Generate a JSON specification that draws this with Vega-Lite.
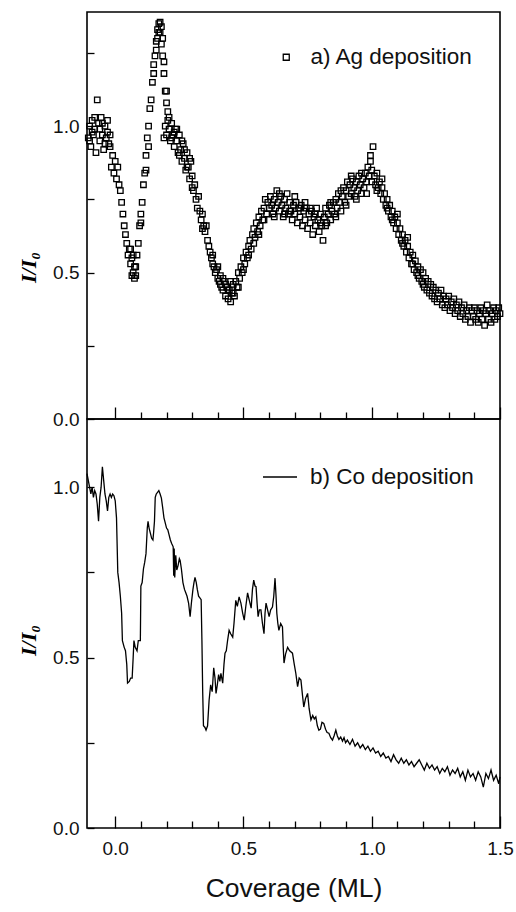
{
  "$schema": "https://vega.github.io/schema/vega-lite/v6.json",
  "background": "white",
  "padding": {"left": 16, "top": 11, "right": 4, "bottom": 4},
  "spacing": 0,
  "bounds": "flush",
  "config": {
    "view": {"stroke": "black", "strokeWidth": 1.6},
    "axis": {"labelFont": "Liberation Sans", "labelColor": "#111", "tickColor": "black", "tickWidth": 1.3, "grid": false, "domain": false, "labelOverlap": false, "labelFlush": false},
    "legend": {"labelFont": "Liberation Sans", "labelColor": "#111", "padding": 0, "labelLimit": 400}
  },
  "resolve": {"scale": {"x": "independent", "y": "independent", "stroke": "independent"}, "legend": {"stroke": "independent"}},
  "datasets": {
    "ag": [
      {"cov": -0.105, "ii": 0.96}, {"cov": -0.1, "ii": 1.0}, {"cov": -0.095, "ii": 0.93}, {"cov": -0.09, "ii": 1.02}, {"cov": -0.085, "ii": 0.97}, {"cov": -0.08, "ii": 0.99}, {"cov": -0.075, "ii": 0.91}, {"cov": -0.07, "ii": 1.09}, {"cov": -0.065, "ii": 1.01}, {"cov": -0.06, "ii": 0.95}, {"cov": -0.055, "ii": 1.03}, {"cov": -0.05, "ii": 0.97}, {"cov": -0.045, "ii": 0.92}, {"cov": -0.04, "ii": 1.0}, {"cov": -0.035, "ii": 0.96}, {"cov": -0.03, "ii": 1.02}, {"cov": -0.025, "ii": 0.94},
      {"cov": -0.1, "ii": 0.95}, {"cov": -0.09, "ii": 0.98}, {"cov": -0.08, "ii": 1.03}, {"cov": -0.06, "ii": 0.99}, {"cov": -0.05, "ii": 1.01}, {"cov": -0.04, "ii": 0.94}, {"cov": -0.03, "ii": 0.98},
      {"cov": -0.02, "ii": 0.93}, {"cov": -0.02, "ii": 0.97}, {"cov": -0.015, "ii": 0.86}, {"cov": -0.01, "ii": 0.9}, {"cov": -0.005, "ii": 0.84}, {"cov": 0.0, "ii": 0.88}, {"cov": 0.005, "ii": 0.82}, {"cov": 0.01, "ii": 0.86}, {"cov": 0.015, "ii": 0.8}, {"cov": 0.02, "ii": 0.78}, {"cov": 0.025, "ii": 0.74}, {"cov": 0.03, "ii": 0.7}, {"cov": 0.035, "ii": 0.66}, {"cov": 0.04, "ii": 0.63}, {"cov": 0.045, "ii": 0.6}, {"cov": 0.05, "ii": 0.56}, {"cov": 0.055, "ii": 0.58}, {"cov": 0.06, "ii": 0.53}, {"cov": 0.065, "ii": 0.55}, {"cov": 0.07, "ii": 0.5}, {"cov": 0.075, "ii": 0.48}, {"cov": 0.08, "ii": 0.52}, {"cov": 0.085, "ii": 0.56}, {"cov": 0.09, "ii": 0.6}, {"cov": 0.095, "ii": 0.66}, {"cov": 0.1, "ii": 0.7}, {"cov": 0.105, "ii": 0.74}, {"cov": 0.11, "ii": 0.8}, {"cov": 0.115, "ii": 0.84}, {"cov": 0.12, "ii": 0.9}, {"cov": 0.125, "ii": 0.96}, {"cov": 0.13, "ii": 1.0}, {"cov": 0.135, "ii": 1.06}, {"cov": 0.14, "ii": 1.09}, {"cov": 0.145, "ii": 1.15}, {"cov": 0.15, "ii": 1.18}, {"cov": 0.155, "ii": 1.24}, {"cov": 0.16, "ii": 1.29}, {"cov": 0.165, "ii": 1.33}, {"cov": 0.17, "ii": 1.35}, {"cov": 0.175, "ii": 1.32}, {"cov": 0.18, "ii": 1.28}, {"cov": 0.185, "ii": 1.24}, {"cov": 0.19, "ii": 1.18}, {"cov": 0.195, "ii": 1.12}, {"cov": 0.2, "ii": 1.08}, {"cov": 0.205, "ii": 1.05},
      {"cov": 0.06, "ii": 0.58}, {"cov": 0.065, "ii": 0.49}, {"cov": 0.07, "ii": 0.56}, {"cov": 0.075, "ii": 0.52}, {"cov": 0.08, "ii": 0.49}, {"cov": 0.1, "ii": 0.67}, {"cov": 0.12, "ii": 0.85}, {"cov": 0.13, "ii": 0.93}, {"cov": 0.15, "ii": 1.21}, {"cov": 0.16, "ii": 1.26}, {"cov": 0.165, "ii": 1.3}, {"cov": 0.17, "ii": 1.32}, {"cov": 0.175, "ii": 1.355}, {"cov": 0.18, "ii": 1.34}, {"cov": 0.185, "ii": 1.3}, {"cov": 0.19, "ii": 1.22}, {"cov": 0.2, "ii": 1.12},
      {"cov": 0.19, "ii": 0.96}, {"cov": 0.195, "ii": 1.0}, {"cov": 0.2, "ii": 0.97}, {"cov": 0.205, "ii": 1.02}, {"cov": 0.21, "ii": 0.99}, {"cov": 0.215, "ii": 0.95}, {"cov": 0.22, "ii": 1.01}, {"cov": 0.225, "ii": 0.97}, {"cov": 0.23, "ii": 0.93}, {"cov": 0.235, "ii": 0.99}, {"cov": 0.24, "ii": 0.95}, {"cov": 0.245, "ii": 0.91}, {"cov": 0.25, "ii": 0.97}, {"cov": 0.255, "ii": 0.92}, {"cov": 0.26, "ii": 0.88}, {"cov": 0.265, "ii": 0.94}, {"cov": 0.27, "ii": 0.89}, {"cov": 0.275, "ii": 0.85}, {"cov": 0.28, "ii": 0.91}, {"cov": 0.285, "ii": 0.86}, {"cov": 0.29, "ii": 0.82}, {"cov": 0.295, "ii": 0.88}, {"cov": 0.3, "ii": 0.83},
      {"cov": 0.21, "ii": 1.03}, {"cov": 0.22, "ii": 0.96}, {"cov": 0.23, "ii": 0.98}, {"cov": 0.24, "ii": 0.99}, {"cov": 0.25, "ii": 0.9}, {"cov": 0.26, "ii": 0.95}, {"cov": 0.27, "ii": 0.92}, {"cov": 0.28, "ii": 0.86}, {"cov": 0.29, "ii": 0.89}, {"cov": 0.3, "ii": 0.79},
      {"cov": 0.305, "ii": 0.78}, {"cov": 0.31, "ii": 0.8}, {"cov": 0.315, "ii": 0.75}, {"cov": 0.32, "ii": 0.72}, {"cov": 0.325, "ii": 0.76}, {"cov": 0.33, "ii": 0.71}, {"cov": 0.335, "ii": 0.68}, {"cov": 0.34, "ii": 0.7}, {"cov": 0.345, "ii": 0.66}, {"cov": 0.35, "ii": 0.64}, {"cov": 0.355, "ii": 0.66}, {"cov": 0.36, "ii": 0.61}, {"cov": 0.365, "ii": 0.59}, {"cov": 0.37, "ii": 0.57}, {"cov": 0.375, "ii": 0.55}, {"cov": 0.38, "ii": 0.56}, {"cov": 0.385, "ii": 0.52}, {"cov": 0.39, "ii": 0.5}, {"cov": 0.395, "ii": 0.51}, {"cov": 0.4, "ii": 0.48}, {"cov": 0.405, "ii": 0.47}, {"cov": 0.41, "ii": 0.49}, {"cov": 0.415, "ii": 0.45}, {"cov": 0.42, "ii": 0.44}, {"cov": 0.425, "ii": 0.47}, {"cov": 0.43, "ii": 0.42}, {"cov": 0.435, "ii": 0.45}, {"cov": 0.44, "ii": 0.41}, {"cov": 0.445, "ii": 0.44}, {"cov": 0.45, "ii": 0.4}, {"cov": 0.455, "ii": 0.43}, {"cov": 0.46, "ii": 0.46}, {"cov": 0.465, "ii": 0.42},
      {"cov": 0.34, "ii": 0.65}, {"cov": 0.38, "ii": 0.53}, {"cov": 0.4, "ii": 0.52}, {"cov": 0.41, "ii": 0.46}, {"cov": 0.42, "ii": 0.48}, {"cov": 0.43, "ii": 0.46}, {"cov": 0.44, "ii": 0.44}, {"cov": 0.45, "ii": 0.47}, {"cov": 0.46, "ii": 0.43},
      {"cov": 0.47, "ii": 0.47}, {"cov": 0.475, "ii": 0.45}, {"cov": 0.48, "ii": 0.5}, {"cov": 0.485, "ii": 0.48}, {"cov": 0.49, "ii": 0.52}, {"cov": 0.495, "ii": 0.5}, {"cov": 0.5, "ii": 0.55}, {"cov": 0.505, "ii": 0.53}, {"cov": 0.51, "ii": 0.57}, {"cov": 0.515, "ii": 0.55}, {"cov": 0.52, "ii": 0.59}, {"cov": 0.525, "ii": 0.61}, {"cov": 0.53, "ii": 0.58}, {"cov": 0.535, "ii": 0.63}, {"cov": 0.54, "ii": 0.65}, {"cov": 0.545, "ii": 0.62}, {"cov": 0.55, "ii": 0.67}, {"cov": 0.555, "ii": 0.64}, {"cov": 0.56, "ii": 0.69}, {"cov": 0.565, "ii": 0.66}, {"cov": 0.57, "ii": 0.71}, {"cov": 0.575, "ii": 0.68}, {"cov": 0.58, "ii": 0.72}, {"cov": 0.585, "ii": 0.75}, {"cov": 0.59, "ii": 0.7}, {"cov": 0.595, "ii": 0.74}, {"cov": 0.6, "ii": 0.72},
      {"cov": 0.48, "ii": 0.45}, {"cov": 0.5, "ii": 0.51}, {"cov": 0.52, "ii": 0.56}, {"cov": 0.54, "ii": 0.6}, {"cov": 0.56, "ii": 0.63}, {"cov": 0.58, "ii": 0.68},
      {"cov": 0.605, "ii": 0.76}, {"cov": 0.61, "ii": 0.73}, {"cov": 0.615, "ii": 0.7}, {"cov": 0.62, "ii": 0.75}, {"cov": 0.625, "ii": 0.72}, {"cov": 0.63, "ii": 0.78}, {"cov": 0.635, "ii": 0.74}, {"cov": 0.64, "ii": 0.71}, {"cov": 0.645, "ii": 0.76}, {"cov": 0.65, "ii": 0.73}, {"cov": 0.655, "ii": 0.69}, {"cov": 0.66, "ii": 0.75}, {"cov": 0.665, "ii": 0.72}, {"cov": 0.67, "ii": 0.77}, {"cov": 0.675, "ii": 0.7}, {"cov": 0.68, "ii": 0.74}, {"cov": 0.685, "ii": 0.71}, {"cov": 0.69, "ii": 0.68}, {"cov": 0.695, "ii": 0.73}, {"cov": 0.7, "ii": 0.7}, {"cov": 0.705, "ii": 0.74}, {"cov": 0.71, "ii": 0.67}, {"cov": 0.715, "ii": 0.72}, {"cov": 0.72, "ii": 0.69}, {"cov": 0.725, "ii": 0.73}, {"cov": 0.73, "ii": 0.66}, {"cov": 0.735, "ii": 0.71}, {"cov": 0.74, "ii": 0.68}, {"cov": 0.745, "ii": 0.72}, {"cov": 0.75, "ii": 0.65}, {"cov": 0.755, "ii": 0.7}, {"cov": 0.76, "ii": 0.67}, {"cov": 0.765, "ii": 0.71}, {"cov": 0.77, "ii": 0.63}, {"cov": 0.775, "ii": 0.69}, {"cov": 0.78, "ii": 0.66}, {"cov": 0.785, "ii": 0.72}, {"cov": 0.79, "ii": 0.68}, {"cov": 0.795, "ii": 0.64}, {"cov": 0.8, "ii": 0.7}, {"cov": 0.805, "ii": 0.66}, {"cov": 0.81, "ii": 0.61}, {"cov": 0.815, "ii": 0.69}, {"cov": 0.82, "ii": 0.72}, {"cov": 0.825, "ii": 0.67}, {"cov": 0.83, "ii": 0.7}, {"cov": 0.835, "ii": 0.73}, {"cov": 0.84, "ii": 0.68}, {"cov": 0.845, "ii": 0.71}, {"cov": 0.85, "ii": 0.74},
      {"cov": 0.62, "ii": 0.69}, {"cov": 0.64, "ii": 0.77}, {"cov": 0.66, "ii": 0.7}, {"cov": 0.68, "ii": 0.71}, {"cov": 0.7, "ii": 0.76}, {"cov": 0.72, "ii": 0.72}, {"cov": 0.74, "ii": 0.74}, {"cov": 0.76, "ii": 0.72}, {"cov": 0.78, "ii": 0.7}, {"cov": 0.8, "ii": 0.67}, {"cov": 0.82, "ii": 0.66}, {"cov": 0.84, "ii": 0.74},
      {"cov": 0.855, "ii": 0.7}, {"cov": 0.86, "ii": 0.75}, {"cov": 0.865, "ii": 0.72}, {"cov": 0.87, "ii": 0.77}, {"cov": 0.875, "ii": 0.74}, {"cov": 0.88, "ii": 0.71}, {"cov": 0.885, "ii": 0.76}, {"cov": 0.89, "ii": 0.79}, {"cov": 0.895, "ii": 0.74}, {"cov": 0.9, "ii": 0.78}, {"cov": 0.905, "ii": 0.81}, {"cov": 0.91, "ii": 0.76}, {"cov": 0.915, "ii": 0.8}, {"cov": 0.92, "ii": 0.77}, {"cov": 0.925, "ii": 0.82}, {"cov": 0.93, "ii": 0.79}, {"cov": 0.935, "ii": 0.76}, {"cov": 0.94, "ii": 0.81}, {"cov": 0.945, "ii": 0.78}, {"cov": 0.95, "ii": 0.83}, {"cov": 0.955, "ii": 0.8}, {"cov": 0.96, "ii": 0.77}, {"cov": 0.965, "ii": 0.82}, {"cov": 0.97, "ii": 0.79}, {"cov": 0.975, "ii": 0.84}, {"cov": 0.98, "ii": 0.81}, {"cov": 0.985, "ii": 0.86}, {"cov": 0.99, "ii": 0.83}, {"cov": 0.995, "ii": 0.88}, {"cov": 1.0, "ii": 0.85}, {"cov": 1.005, "ii": 0.93},
      {"cov": 0.86, "ii": 0.69}, {"cov": 0.88, "ii": 0.78}, {"cov": 0.9, "ii": 0.73}, {"cov": 0.92, "ii": 0.83}, {"cov": 0.94, "ii": 0.75}, {"cov": 0.96, "ii": 0.84}, {"cov": 0.98, "ii": 0.77}, {"cov": 1.0, "ii": 0.81}, {"cov": 0.995, "ii": 0.9},
      {"cov": 1.01, "ii": 0.83}, {"cov": 1.015, "ii": 0.8}, {"cov": 1.02, "ii": 0.84}, {"cov": 1.025, "ii": 0.79}, {"cov": 1.03, "ii": 0.81}, {"cov": 1.035, "ii": 0.77}, {"cov": 1.04, "ii": 0.79}, {"cov": 1.045, "ii": 0.75}, {"cov": 1.05, "ii": 0.77}, {"cov": 1.055, "ii": 0.73}, {"cov": 1.06, "ii": 0.75}, {"cov": 1.065, "ii": 0.71}, {"cov": 1.07, "ii": 0.73}, {"cov": 1.075, "ii": 0.69}, {"cov": 1.08, "ii": 0.71}, {"cov": 1.085, "ii": 0.67}, {"cov": 1.09, "ii": 0.69}, {"cov": 1.095, "ii": 0.65}, {"cov": 1.1, "ii": 0.67}, {"cov": 1.105, "ii": 0.63}, {"cov": 1.11, "ii": 0.65}, {"cov": 1.115, "ii": 0.61}, {"cov": 1.12, "ii": 0.63}, {"cov": 1.125, "ii": 0.59}, {"cov": 1.13, "ii": 0.61}, {"cov": 1.135, "ii": 0.57}, {"cov": 1.14, "ii": 0.59}, {"cov": 1.145, "ii": 0.55}, {"cov": 1.15, "ii": 0.57}, {"cov": 1.155, "ii": 0.53}, {"cov": 1.16, "ii": 0.56}, {"cov": 1.165, "ii": 0.51}, {"cov": 1.17, "ii": 0.54}, {"cov": 1.175, "ii": 0.5}, {"cov": 1.18, "ii": 0.52}, {"cov": 1.185, "ii": 0.48}, {"cov": 1.19, "ii": 0.51}, {"cov": 1.195, "ii": 0.47}, {"cov": 1.2, "ii": 0.5},
      {"cov": 1.02, "ii": 0.78}, {"cov": 1.04, "ii": 0.82}, {"cov": 1.06, "ii": 0.72}, {"cov": 1.08, "ii": 0.68}, {"cov": 1.1, "ii": 0.7}, {"cov": 1.12, "ii": 0.6}, {"cov": 1.14, "ii": 0.62}, {"cov": 1.16, "ii": 0.53}, {"cov": 1.18, "ii": 0.49}, {"cov": 1.2, "ii": 0.46},
      {"cov": 1.205, "ii": 0.45}, {"cov": 1.21, "ii": 0.48}, {"cov": 1.215, "ii": 0.44}, {"cov": 1.22, "ii": 0.47}, {"cov": 1.225, "ii": 0.43}, {"cov": 1.23, "ii": 0.46}, {"cov": 1.235, "ii": 0.42}, {"cov": 1.24, "ii": 0.45}, {"cov": 1.245, "ii": 0.41}, {"cov": 1.25, "ii": 0.44}, {"cov": 1.255, "ii": 0.4}, {"cov": 1.26, "ii": 0.43}, {"cov": 1.265, "ii": 0.41}, {"cov": 1.27, "ii": 0.44}, {"cov": 1.275, "ii": 0.39}, {"cov": 1.28, "ii": 0.42}, {"cov": 1.285, "ii": 0.38}, {"cov": 1.29, "ii": 0.41}, {"cov": 1.295, "ii": 0.39}, {"cov": 1.3, "ii": 0.42}, {"cov": 1.305, "ii": 0.37}, {"cov": 1.31, "ii": 0.4}, {"cov": 1.315, "ii": 0.38}, {"cov": 1.32, "ii": 0.41}, {"cov": 1.325, "ii": 0.36}, {"cov": 1.33, "ii": 0.39}, {"cov": 1.335, "ii": 0.37}, {"cov": 1.34, "ii": 0.4}, {"cov": 1.345, "ii": 0.35}, {"cov": 1.35, "ii": 0.38}, {"cov": 1.355, "ii": 0.36}, {"cov": 1.36, "ii": 0.39}, {"cov": 1.365, "ii": 0.34}, {"cov": 1.37, "ii": 0.37}, {"cov": 1.375, "ii": 0.35}, {"cov": 1.38, "ii": 0.38}, {"cov": 1.385, "ii": 0.33}, {"cov": 1.39, "ii": 0.37}, {"cov": 1.395, "ii": 0.35}, {"cov": 1.4, "ii": 0.38}, {"cov": 1.405, "ii": 0.34}, {"cov": 1.41, "ii": 0.37}, {"cov": 1.415, "ii": 0.33}, {"cov": 1.42, "ii": 0.36}, {"cov": 1.425, "ii": 0.38}, {"cov": 1.43, "ii": 0.34}, {"cov": 1.435, "ii": 0.37}, {"cov": 1.44, "ii": 0.32}, {"cov": 1.445, "ii": 0.36}, {"cov": 1.45, "ii": 0.39}, {"cov": 1.455, "ii": 0.34}, {"cov": 1.46, "ii": 0.37}, {"cov": 1.465, "ii": 0.33}, {"cov": 1.47, "ii": 0.36}, {"cov": 1.475, "ii": 0.38}, {"cov": 1.48, "ii": 0.34}, {"cov": 1.485, "ii": 0.37}, {"cov": 1.49, "ii": 0.35}, {"cov": 1.495, "ii": 0.38}, {"cov": 1.5, "ii": 0.36}
    ],
    "co": [
      {"cov": -0.11, "ii": 1.04}, {"cov": -0.105, "ii": 1.02}, {"cov": -0.1, "ii": 1.0}, {"cov": -0.095, "ii": 0.98}, {"cov": -0.09, "ii": 1.0}, {"cov": -0.085, "ii": 0.97}, {"cov": -0.08, "ii": 0.99}, {"cov": -0.075, "ii": 0.98}, {"cov": -0.07, "ii": 0.95}, {"cov": -0.065, "ii": 0.9}, {"cov": -0.06, "ii": 0.97}, {"cov": -0.055, "ii": 1.0}, {"cov": -0.05, "ii": 1.06}, {"cov": -0.045, "ii": 1.02}, {"cov": -0.04, "ii": 0.98}, {"cov": -0.035, "ii": 0.96}, {"cov": -0.03, "ii": 0.93}, {"cov": -0.025, "ii": 0.97}, {"cov": -0.02, "ii": 0.98}, {"cov": -0.015, "ii": 0.97}, {"cov": -0.01, "ii": 0.98}, {"cov": -0.005, "ii": 0.975}, {"cov": 0.0, "ii": 0.96}, {"cov": 0.005, "ii": 0.91}, {"cov": 0.01, "ii": 0.75}, {"cov": 0.015, "ii": 0.72}, {"cov": 0.02, "ii": 0.68}, {"cov": 0.025, "ii": 0.63}, {"cov": 0.028, "ii": 0.55}, {"cov": 0.035, "ii": 0.53}, {"cov": 0.04, "ii": 0.52}, {"cov": 0.045, "ii": 0.48}, {"cov": 0.048, "ii": 0.425}, {"cov": 0.055, "ii": 0.43}, {"cov": 0.06, "ii": 0.44}, {"cov": 0.066, "ii": 0.44}, {"cov": 0.07, "ii": 0.5}, {"cov": 0.073, "ii": 0.55}, {"cov": 0.078, "ii": 0.53}, {"cov": 0.085, "ii": 0.52}, {"cov": 0.09, "ii": 0.55}, {"cov": 0.098, "ii": 0.55}, {"cov": 0.1, "ii": 0.71}, {"cov": 0.105, "ii": 0.72}, {"cov": 0.11, "ii": 0.76}, {"cov": 0.115, "ii": 0.78}, {"cov": 0.12, "ii": 0.805}, {"cov": 0.125, "ii": 0.88}, {"cov": 0.128, "ii": 0.9}, {"cov": 0.132, "ii": 0.88}, {"cov": 0.137, "ii": 0.865}, {"cov": 0.142, "ii": 0.85}, {"cov": 0.147, "ii": 0.845}, {"cov": 0.15, "ii": 0.87}, {"cov": 0.153, "ii": 0.9}, {"cov": 0.156, "ii": 0.97}, {"cov": 0.16, "ii": 0.98}, {"cov": 0.165, "ii": 0.985}, {"cov": 0.17, "ii": 0.99}, {"cov": 0.175, "ii": 0.98}, {"cov": 0.18, "ii": 0.968}, {"cov": 0.185, "ii": 0.94}, {"cov": 0.19, "ii": 0.91}, {"cov": 0.195, "ii": 0.895}, {"cov": 0.2, "ii": 0.88}, {"cov": 0.205, "ii": 0.875}, {"cov": 0.21, "ii": 0.86}, {"cov": 0.215, "ii": 0.845}, {"cov": 0.22, "ii": 0.835}, {"cov": 0.226, "ii": 0.825}, {"cov": 0.228, "ii": 0.74}, {"cov": 0.23, "ii": 0.82}, {"cov": 0.232, "ii": 0.735}, {"cov": 0.236, "ii": 0.8}, {"cov": 0.24, "ii": 0.757}, {"cov": 0.245, "ii": 0.77}, {"cov": 0.25, "ii": 0.79}, {"cov": 0.253, "ii": 0.785}, {"cov": 0.258, "ii": 0.76}, {"cov": 0.264, "ii": 0.72}, {"cov": 0.27, "ii": 0.7}, {"cov": 0.275, "ii": 0.69}, {"cov": 0.28, "ii": 0.68}, {"cov": 0.286, "ii": 0.66}, {"cov": 0.292, "ii": 0.62}, {"cov": 0.297, "ii": 0.66}, {"cov": 0.303, "ii": 0.7}, {"cov": 0.307, "ii": 0.72}, {"cov": 0.311, "ii": 0.735}, {"cov": 0.316, "ii": 0.72}, {"cov": 0.32, "ii": 0.7}, {"cov": 0.325, "ii": 0.68}, {"cov": 0.33, "ii": 0.675}, {"cov": 0.335, "ii": 0.67}, {"cov": 0.338, "ii": 0.55}, {"cov": 0.341, "ii": 0.4}, {"cov": 0.344, "ii": 0.3}, {"cov": 0.35, "ii": 0.295}, {"cov": 0.354, "ii": 0.287}, {"cov": 0.36, "ii": 0.3}, {"cov": 0.366, "ii": 0.375}, {"cov": 0.372, "ii": 0.42}, {"cov": 0.378, "ii": 0.4}, {"cov": 0.384, "ii": 0.47}, {"cov": 0.389, "ii": 0.44}, {"cov": 0.393, "ii": 0.395}, {"cov": 0.398, "ii": 0.42}, {"cov": 0.403, "ii": 0.45}, {"cov": 0.408, "ii": 0.43}, {"cov": 0.412, "ii": 0.454}, {"cov": 0.419, "ii": 0.425}, {"cov": 0.424, "ii": 0.48}, {"cov": 0.428, "ii": 0.513}, {"cov": 0.433, "ii": 0.52}, {"cov": 0.438, "ii": 0.55}, {"cov": 0.444, "ii": 0.58}, {"cov": 0.45, "ii": 0.57}, {"cov": 0.458, "ii": 0.56}, {"cov": 0.463, "ii": 0.6}, {"cov": 0.47, "ii": 0.668}, {"cov": 0.476, "ii": 0.65}, {"cov": 0.483, "ii": 0.678}, {"cov": 0.49, "ii": 0.66}, {"cov": 0.497, "ii": 0.63}, {"cov": 0.503, "ii": 0.61}, {"cov": 0.509, "ii": 0.65}, {"cov": 0.516, "ii": 0.69}, {"cov": 0.522, "ii": 0.67}, {"cov": 0.53, "ii": 0.645}, {"cov": 0.535, "ii": 0.7}, {"cov": 0.54, "ii": 0.727}, {"cov": 0.545, "ii": 0.71}, {"cov": 0.549, "ii": 0.708}, {"cov": 0.553, "ii": 0.66}, {"cov": 0.557, "ii": 0.62}, {"cov": 0.562, "ii": 0.64}, {"cov": 0.568, "ii": 0.64}, {"cov": 0.574, "ii": 0.6}, {"cov": 0.58, "ii": 0.57}, {"cov": 0.584, "ii": 0.63}, {"cov": 0.588, "ii": 0.66}, {"cov": 0.594, "ii": 0.64}, {"cov": 0.6, "ii": 0.62}, {"cov": 0.606, "ii": 0.64}, {"cov": 0.613, "ii": 0.648}, {"cov": 0.618, "ii": 0.68}, {"cov": 0.623, "ii": 0.733}, {"cov": 0.627, "ii": 0.68}, {"cov": 0.63, "ii": 0.63}, {"cov": 0.634, "ii": 0.6}, {"cov": 0.638, "ii": 0.58}, {"cov": 0.645, "ii": 0.6}, {"cov": 0.652, "ii": 0.59}, {"cov": 0.655, "ii": 0.53}, {"cov": 0.658, "ii": 0.484}, {"cov": 0.664, "ii": 0.51}, {"cov": 0.672, "ii": 0.53}, {"cov": 0.68, "ii": 0.52}, {"cov": 0.691, "ii": 0.513}, {"cov": 0.698, "ii": 0.48}, {"cov": 0.704, "ii": 0.454}, {"cov": 0.711, "ii": 0.415}, {"cov": 0.717, "ii": 0.44}, {"cov": 0.724, "ii": 0.434}, {"cov": 0.73, "ii": 0.39}, {"cov": 0.735, "ii": 0.355}, {"cov": 0.742, "ii": 0.38}, {"cov": 0.75, "ii": 0.395}, {"cov": 0.756, "ii": 0.35}, {"cov": 0.763, "ii": 0.317}, {"cov": 0.77, "ii": 0.33}, {"cov": 0.776, "ii": 0.32}, {"cov": 0.782, "ii": 0.326}, {"cov": 0.788, "ii": 0.3}, {"cov": 0.794, "ii": 0.287}, {"cov": 0.8, "ii": 0.29}, {"cov": 0.806, "ii": 0.31}, {"cov": 0.813, "ii": 0.307}, {"cov": 0.82, "ii": 0.29}, {"cov": 0.826, "ii": 0.28}, {"cov": 0.833, "ii": 0.278}, {"cov": 0.84, "ii": 0.265}, {"cov": 0.847, "ii": 0.258}, {"cov": 0.853, "ii": 0.27}, {"cov": 0.86, "ii": 0.287}, {"cov": 0.866, "ii": 0.27}, {"cov": 0.872, "ii": 0.26}, {"cov": 0.879, "ii": 0.267}, {"cov": 0.886, "ii": 0.255}, {"cov": 0.892, "ii": 0.265}, {"cov": 0.898, "ii": 0.25}, {"cov": 0.905, "ii": 0.258},
      {"cov": 0.915, "ii": 0.245}, {"cov": 0.925, "ii": 0.26}, {"cov": 0.935, "ii": 0.24}, {"cov": 0.945, "ii": 0.25}, {"cov": 0.955, "ii": 0.235}, {"cov": 0.965, "ii": 0.245}, {"cov": 0.975, "ii": 0.23}, {"cov": 0.985, "ii": 0.24}, {"cov": 0.995, "ii": 0.225}, {"cov": 1.005, "ii": 0.235}, {"cov": 1.015, "ii": 0.22}, {"cov": 1.025, "ii": 0.225}, {"cov": 1.035, "ii": 0.21}, {"cov": 1.045, "ii": 0.22}, {"cov": 1.055, "ii": 0.205}, {"cov": 1.065, "ii": 0.21}, {"cov": 1.075, "ii": 0.195}, {"cov": 1.085, "ii": 0.215}, {"cov": 1.095, "ii": 0.2}, {"cov": 1.105, "ii": 0.19}, {"cov": 1.115, "ii": 0.205}, {"cov": 1.125, "ii": 0.19}, {"cov": 1.135, "ii": 0.2}, {"cov": 1.145, "ii": 0.185}, {"cov": 1.155, "ii": 0.195}, {"cov": 1.165, "ii": 0.18}, {"cov": 1.175, "ii": 0.19}, {"cov": 1.185, "ii": 0.2}, {"cov": 1.195, "ii": 0.185}, {"cov": 1.205, "ii": 0.17}, {"cov": 1.215, "ii": 0.19}, {"cov": 1.225, "ii": 0.175}, {"cov": 1.235, "ii": 0.185}, {"cov": 1.245, "ii": 0.17}, {"cov": 1.255, "ii": 0.18}, {"cov": 1.265, "ii": 0.16}, {"cov": 1.275, "ii": 0.175}, {"cov": 1.285, "ii": 0.165}, {"cov": 1.295, "ii": 0.18}, {"cov": 1.305, "ii": 0.155}, {"cov": 1.315, "ii": 0.17}, {"cov": 1.325, "ii": 0.16}, {"cov": 1.335, "ii": 0.175}, {"cov": 1.345, "ii": 0.15}, {"cov": 1.355, "ii": 0.165}, {"cov": 1.365, "ii": 0.14}, {"cov": 1.375, "ii": 0.17}, {"cov": 1.385, "ii": 0.15}, {"cov": 1.395, "ii": 0.16}, {"cov": 1.405, "ii": 0.14}, {"cov": 1.415, "ii": 0.165}, {"cov": 1.425, "ii": 0.15}, {"cov": 1.435, "ii": 0.12}, {"cov": 1.445, "ii": 0.16}, {"cov": 1.455, "ii": 0.145}, {"cov": 1.465, "ii": 0.17}, {"cov": 1.475, "ii": 0.14}, {"cov": 1.485, "ii": 0.155}, {"cov": 1.495, "ii": 0.13}, {"cov": 1.5, "ii": 0.15}
    ]
  },
  "vconcat": [
    {
      "width": 413,
      "height": 407,
      "data": {"name": "ag"},
      "mark": {"type": "point", "shape": "square", "filled": false, "size": 30, "strokeWidth": 1.3, "opacity": 1},
      "encoding": {
        "x": {
          "field": "cov", "type": "quantitative",
          "scale": {"domain": [-0.11, 1.5], "nice": false, "zero": false},
          "axis": {
            "values": [0, 0.1, 0.2, 0.3, 0.4, 0.5, 0.6, 0.7, 0.8, 0.9, 1.0, 1.1, 1.2, 1.3, 1.4, 1.5],
            "labels": false, "title": null,
            "tickSize": {"condition": {"test": "abs(datum.value*2 - round(datum.value*2)) < 0.001", "value": -12}, "value": -7}
          }
        },
        "y": {
          "field": "ii", "type": "quantitative",
          "scale": {"domain": [0, 1.39], "nice": false},
          "axis": {
            "values": [0, 0.25, 0.5, 0.75, 1.0, 1.25],
            "labelExpr": "abs(datum.value*2 - round(datum.value*2)) < 0.001 ? format(datum.value, '.1f') : ''",
            "tickSize": -7, "labelFontSize": 19, "labelPadding": 15,
            "title": "I/I₀", "titleFont": "Liberation Serif", "titleFontStyle": "italic", "titleFontWeight": "bold", "titleFontSize": 22, "titlePadding": 12, "titleY": 255
          }
        },
        "stroke": {
          "datum": "a) Ag deposition",
          "scale": {"range": ["black"]},
          "legend": {"orient": "none", "legendX": 188, "legendY": 34, "title": null, "symbolType": "square", "symbolSize": 36, "symbolStrokeWidth": 1.3, "symbolStrokeColor": "black", "symbolFillColor": "transparent", "labelFontSize": 22.5, "labelOffset": 13, "labelLimit": 400}
        }
      }
    },
    {
      "width": 413,
      "height": 409,
      "data": {"name": "co"},
      "mark": {"type": "line", "strokeWidth": 1.3},
      "encoding": {
        "x": {
          "field": "cov", "type": "quantitative",
          "scale": {"domain": [-0.11, 1.5], "nice": false, "zero": false},
          "axis": {
            "values": [0, 0.1, 0.2, 0.3, 0.4, 0.5, 0.6, 0.7, 0.8, 0.9, 1.0, 1.1, 1.2, 1.3, 1.4, 1.5],
            "labelExpr": "abs(datum.value*2 - round(datum.value*2)) < 0.001 ? format(datum.value, '.1f') : ''",
            "tickSize": {"condition": {"test": "abs(datum.value*2 - round(datum.value*2)) < 0.001", "value": -12}, "value": -7},
            "labelFontSize": 19, "labelPadding": 23,
            "title": "Coverage (ML)", "titleFont": "Liberation Sans", "titleFontSize": 26.5, "titleFontWeight": "normal", "titleColor": "#111", "titlePadding": 12
          }
        },
        "y": {
          "field": "ii", "type": "quantitative",
          "scale": {"domain": [0, 1.2], "nice": false},
          "axis": {
            "values": [0, 0.25, 0.5, 0.75, 1.0],
            "labelExpr": "abs(datum.value*2 - round(datum.value*2)) < 0.001 ? format(datum.value, '.1f') : ''",
            "tickSize": -7, "labelFontSize": 19, "labelPadding": 15,
            "title": "I/I₀", "titleFont": "Liberation Serif", "titleFontStyle": "italic", "titleFontWeight": "bold", "titleFontSize": 22, "titlePadding": 12, "titleY": 221
          }
        },
        "stroke": {
          "datum": "b) Co deposition",
          "scale": {"range": ["black"]},
          "legend": {"orient": "none", "legendX": 175, "legendY": 40, "title": null, "symbolType": "stroke", "symbolSize": 1156, "symbolStrokeWidth": 1.3, "symbolStrokeColor": "black", "labelFontSize": 22.5, "labelOffset": 12, "labelLimit": 400}
        }
      }
    }
  ]
}
